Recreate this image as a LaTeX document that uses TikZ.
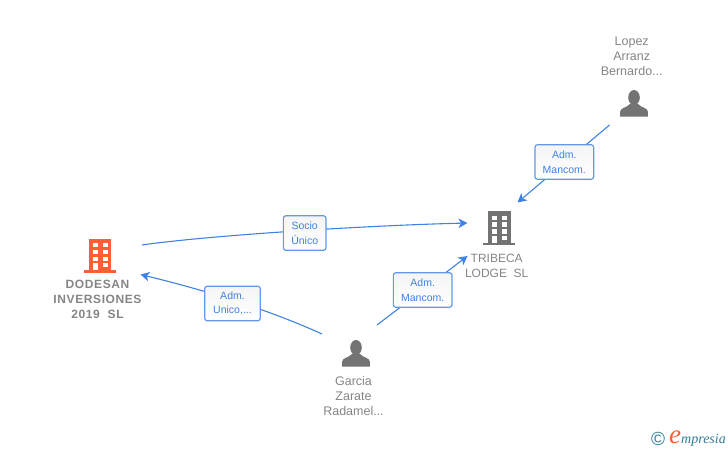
\documentclass[tikz,border=0pt]{standalone}
\usepackage{fontspec}
\setmainfont{Liberation Sans}
\newfontfamily\logofont{Liberation Serif}
\newfontfamily\namefont[LetterSpace=5]{Liberation Sans}
\usetikzlibrary{arrows.meta}
\definecolor{linkblue}{HTML}{3F82E2}
\definecolor{boxblue}{HTML}{5F9AE8}
\definecolor{iconorange}{HTML}{FF5F33}
\definecolor{icongrey}{HTML}{737373}
\definecolor{namegrey}{HTML}{858585}
\definecolor{logoteal}{HTML}{2F7C96}
\def\buildingicon[#1](#2,#3){
	\begin{scope}[shift={(#2,#3)}]
		\fill[#1] (-11.3,-31.5) rectangle (11.3,0);
		\fill[#1] (-15.8,0) rectangle (15.8,2.5);
		\foreach \wy in {-27,-20.4,-13.4,-7}{
			\fill[white] (2.5,\wy) rectangle (7.5,\wy+4.3);
		}
		\foreach \wy in {-27,-20.4,-13.4}{
			\fill[white] (-7.5,\wy) rectangle (-2.2,\wy+4.3);
		}
		\fill[white] (-7.5,-7) rectangle (-2.2,0);
	\end{scope}
}
\def\personicon[#1](#2,#3){
	\begin{scope}[shift={(#2,#3)}]
		\fill[#1] (0,7.6) ellipse (5.8 and 7.6);
		\fill[#1] (-13.8,26.7) -- (-13.8,21.5) .. controls (-13.8,18) and (-7,17.5) .. (-4,14) -- (4,14) .. controls (7,17.5) and (13.8,18) .. (13.8,21.5) -- (13.8,26.7) -- cycle;
	\end{scope}
}
\tikzset{
	link/.style={draw=linkblue, line width=1.1pt},
	linkarrow/.style={link, -{Stealth[length=9pt,width=9.5pt,inset=2.5pt]}},
	labelbox/.style={draw=boxblue, line width=1.2pt, rounded corners=2.5pt, top color=black!4, bottom color=white, text=linkblue, align=center, inner sep=0pt, minimum height=34.5pt, font=\fontsize{10.5}{14.5}\selectfont},
	company/.style={align=center, text=namegrey, inner sep=0pt, font=\fontsize{12}{15}\selectfont},
	person/.style={company, font=\fontsize{12.5}{15}\selectfont},
}
\begin{document}
\begin{tikzpicture}[x=1pt,y=-1pt]
	\useasboundingbox (0,0) rectangle (728,450);

	% free ends of the connectors
	\coordinate (dodesanout) at (142,245);
	\coordinate (dodesanin) at (140.5,274.5);
	\coordinate (tribecaleft) at (467.5,223);
	\coordinate (tribecabottom) at (467.5,256);
	\coordinate (tribecatop) at (517.5,202.5);
	\coordinate (lopezout) at (609.5,125);
	\coordinate (garciaup) at (377,325);
	\coordinate (garcialeft) at (322,334);

	\draw[linkarrow] (dodesanout) .. controls (200,236.5) and (350,226) .. (tribecaleft);
	\draw[linkarrow] (garcialeft) .. controls (265,308) and (200,289) .. (dodesanin);
	\draw[linkarrow] (garciaup) -- (tribecabottom);
	\draw[linkarrow] (lopezout) -- (tribecatop);

	\node[labelbox, minimum width=42.7pt] (socio) at (304.7,233) {Socio\\Único};
	\node[labelbox, minimum width=55.6pt] (admunico) at (232.5,303.5) {Adm.\\Unico,...};
	\node[labelbox, minimum width=58.7pt] (mancomtop) at (564.3,162) {Adm.\\Mancom.};
	\node[labelbox, minimum width=58.7pt] (mancombottom) at (422.7,290) {Adm.\\Mancom.};

	\buildingicon[iconorange](100,270)
	\buildingicon[icongrey](499.2,242.7)
	\personicon[icongrey](634,90)
	\personicon[icongrey](356,340)

	\node[company, font=\fontsize{12}{15.3}\selectfont\namefont\bfseries] (dodesan) at (97.5,299.5) {DODESAN\\INVERSIONES\\2019\ \ SL};
	\node[company] (tribeca) at (496.7,265.5) {TRIBECA\\LODGE\ \ SL};
	\node[person] (lopez) at (631.7,56.4) {Lopez\\Arranz\\Bernardo...};
	\node[person] (garcia) at (353.5,396.4) {Garcia\\Zarate\\Radamel...};

	\node[text=logoteal, inner sep=0pt, font=\fontsize{19}{19}\selectfont] (copyright) at (658,439) {©};
	\node[text=logoteal, inner sep=0pt, anchor=east, font=\fontsize{14}{14}\selectfont\logofont\itshape] (logo) at (726,438.5) {{\color{iconorange}\fontsize{27}{27}\selectfont e}mpresia};
\end{tikzpicture}
\end{document}
